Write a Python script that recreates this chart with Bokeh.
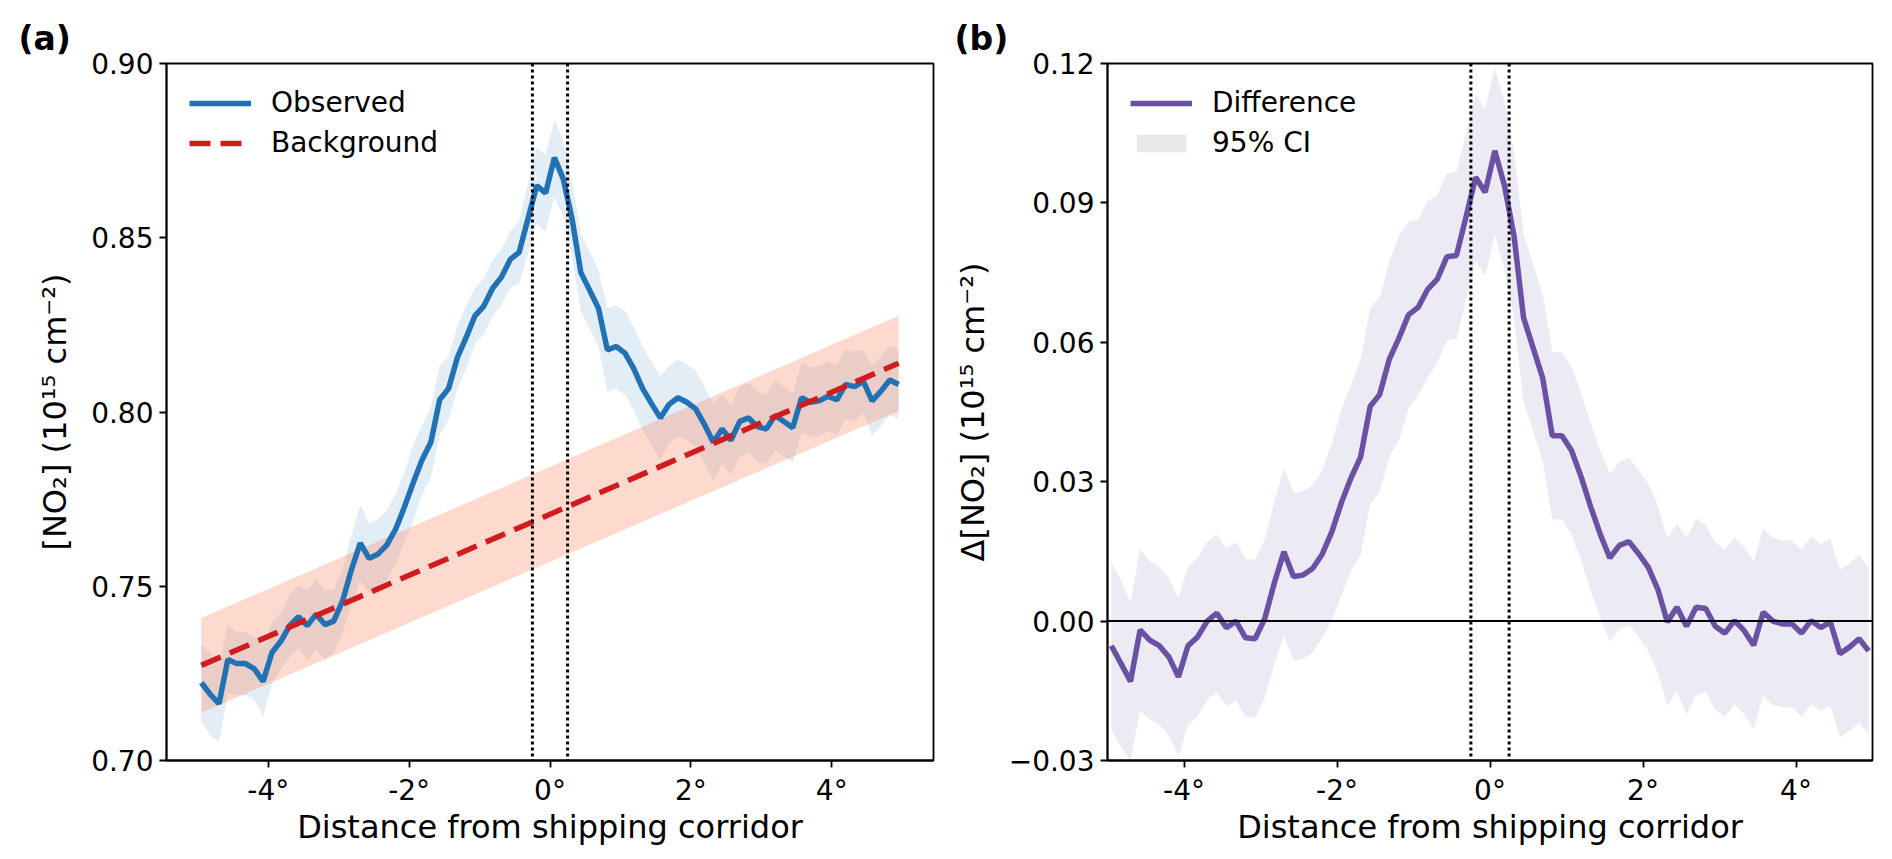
import numpy as np
from bokeh.plotting import figure
from bokeh.layouts import row
from bokeh.models import Span, Title, Legend, LegendItem, FixedTicker, Range1d
from bokeh.embed import file_html
from bokeh.resources import INLINE

FONT = "DejaVu Sans"

# posiciones a lo largo del eje (80 bins entre -4.95 y 4.95)
x = np.linspace(-4.95, 4.95, 80)

# (a) NO2 observado y su banda
observed = [0.7223, 0.7190, 0.7163, 0.7290, 0.7278, 0.7278, 0.7263, 0.7227, 0.7310, 0.7342,
            0.7387, 0.7413, 0.7387, 0.7420, 0.7390, 0.7400, 0.7458, 0.7547, 0.7624, 0.7580,
            0.7592, 0.7618, 0.7663, 0.7727, 0.7797, 0.7862, 0.7913, 0.8035, 0.8067, 0.8156,
            0.8214, 0.8276, 0.8304, 0.8355, 0.8387, 0.8438, 0.8458, 0.8554, 0.8650, 0.8628,
            0.8730, 0.8669, 0.8554, 0.8400, 0.8349, 0.8297, 0.8178, 0.8188, 0.8169, 0.8124,
            0.8067, 0.8024, 0.7983, 0.8022, 0.8041, 0.8028, 0.8009, 0.7964, 0.7913, 0.7951,
            0.7919, 0.7973, 0.7983, 0.7958, 0.7951, 0.7990, 0.7973, 0.7955, 0.8041, 0.8028,
            0.8032, 0.8045, 0.8035, 0.8079, 0.8073, 0.8088, 0.8032, 0.8060, 0.8092, 0.8079]
observed_hw = [0.011, 0.012, 0.011, 0.010, 0.009, 0.009, 0.009, 0.010, 0.009, 0.008,
               0.009, 0.009, 0.010, 0.010, 0.010, 0.009, 0.009, 0.010, 0.011, 0.010,
               0.010, 0.010, 0.010, 0.010, 0.011, 0.010, 0.010, 0.010, 0.009, 0.009,
               0.009, 0.008, 0.008, 0.008, 0.008, 0.008, 0.009, 0.010, 0.011, 0.011,
               0.011, 0.011, 0.011, 0.011, 0.011, 0.011, 0.012, 0.012, 0.012, 0.012,
               0.012, 0.012, 0.012, 0.011, 0.011, 0.011, 0.011, 0.011, 0.011, 0.010,
               0.010, 0.010, 0.010, 0.010, 0.010, 0.010, 0.010, 0.010, 0.010, 0.010,
               0.010, 0.010, 0.010, 0.010, 0.010, 0.009, 0.010, 0.010, 0.010, 0.010]

# fondo lineal y su banda
bg_x = [-4.95, 4.95]
bg_y = [0.7273, 0.8140]
bg_lo = [0.7137, 0.8003]
bg_hi = [0.7409, 0.8276]

# (b) diferencia e intervalo de confianza
difference = [-0.0053, -0.0091, -0.0130, -0.0019, -0.0041, -0.0053, -0.0077, -0.0120, -0.0053, -0.0034,
              0.0000, 0.0017, -0.0014, 0.0000, -0.0036, -0.0038, 0.0005, 0.0082, 0.0149, 0.0096,
              0.0099, 0.0113, 0.0144, 0.0192, 0.0255, 0.0308, 0.0353, 0.0462, 0.0488, 0.0564,
              0.0609, 0.0659, 0.0675, 0.0714, 0.0736, 0.0784, 0.0787, 0.0870, 0.0955, 0.0923,
              0.1012, 0.0938, 0.0830, 0.0653, 0.0588, 0.0523, 0.0399, 0.0399, 0.0367, 0.0311,
              0.0246, 0.0187, 0.0136, 0.0163, 0.0171, 0.0145, 0.0116, 0.0069, -0.0002, 0.0030,
              -0.0011, 0.0030, 0.0027, -0.0011, -0.0026, 0.0001, -0.0020, -0.0052, 0.0019, 0.0000,
              -0.0006, -0.0006, -0.0026, 0.0001, -0.0014, -0.0002, -0.0070, -0.0056, -0.0038, -0.0064]
difference_hw = [0.018, 0.018, 0.017, 0.0175, 0.017, 0.017, 0.017, 0.017, 0.017, 0.017,
                 0.017, 0.017, 0.017, 0.017, 0.017, 0.017, 0.017, 0.0175, 0.018, 0.018,
                 0.018, 0.018, 0.018, 0.019, 0.020, 0.020, 0.021, 0.021, 0.021, 0.021,
                 0.022, 0.020, 0.019, 0.019, 0.018, 0.018, 0.018, 0.018, 0.018, 0.018,
                 0.018, 0.018, 0.018, 0.018, 0.018, 0.018, 0.018, 0.018, 0.018, 0.018,
                 0.018, 0.018, 0.018, 0.018, 0.018, 0.018, 0.018, 0.018, 0.018, 0.018,
                 0.019, 0.019, 0.018, 0.018, 0.018, 0.018, 0.018, 0.018, 0.018, 0.018,
                 0.018, 0.018, 0.018, 0.018, 0.018, 0.018, 0.018, 0.018, 0.018, 0.018]

corridor_edges = [-0.25, 0.25]

x_ticks = [-4, -2, 0, 2, 4]
x_tick_labels = ["-4°", "-2°", "0°", "2°", "4°"]
a_ticks = [0.70, 0.75, 0.80, 0.85, 0.90]
a_tick_labels = ["0.70", "0.75", "0.80", "0.85", "0.90"]
b_ticks = [-0.03, 0.0, 0.03, 0.06, 0.09, 0.12]
b_tick_labels = ["\u22120.03", "0.00", "0.03", "0.06", "0.09", "0.12"]

obs = np.array(observed)
obs_hw = np.array(observed_hw)
dif = np.array(difference)
dif_hw = np.array(difference_hw)


def make_fig(xr, yr, yticks, ylabels, ylabel, min_left, min_right, fw):
    p = figure(frame_width=fw, frame_height=697, x_range=xr, y_range=yr,
               min_border_left=min_left, min_border_right=min_right, min_border_top=63,
               min_border_bottom=88, output_backend="svg", toolbar_location=None)
    p.grid.visible = False
    p.outline_line_color = "black"
    p.outline_line_width = 1.8
    p.xaxis.ticker = FixedTicker(ticks=x_ticks)
    p.xaxis.major_label_overrides = dict(zip(x_ticks, x_tick_labels))
    p.yaxis.ticker = FixedTicker(ticks=yticks)
    p.yaxis.major_label_overrides = dict(zip(yticks, ylabels))
    p.xaxis.axis_label = "Distance from shipping corridor"
    p.yaxis.axis_label = ylabel
    for ax in (p.xaxis[0], p.yaxis[0]):
        ax.axis_line_color = "black"
        ax.axis_line_width = 1.8
        ax.major_tick_line_color = "black"
        ax.major_tick_line_width = 1.8
        ax.major_tick_out = 7
        ax.major_tick_in = 0
        ax.minor_tick_line_color = None
        ax.major_label_text_font = FONT
        ax.major_label_text_font_size = "28px"
        ax.major_label_text_color = "black"
        ax.axis_label_text_font = FONT
        ax.axis_label_text_font_size = "32px"
        ax.axis_label_text_font_style = "normal"
        ax.axis_label_text_color = "black"
    p.xaxis.major_label_standoff = 6
    p.xaxis.axis_label_standoff = -2
    p.yaxis.major_label_standoff = 6
    p.yaxis.axis_label_standoff = 14
    for e in corridor_edges:
        p.add_layout(Span(location=e, dimension="height", line_color="black",
                          line_width=3, line_dash="3 3"))
    return p


def add_legend(p, items):
    leg = Legend(items=items, location="top_left", border_line_alpha=0,
                 background_fill_alpha=0, label_text_font=FONT,
                 label_text_font_size="28px", label_text_color="black",
                 glyph_width=62, glyph_height=22, label_height=30, label_standoff=20,
                 spacing=7, padding=10, margin=13)
    p.add_layout(leg)


def add_tag(p, text, offset):
    p.add_layout(Title(text=text, align="left", offset=offset, standoff=12,
                       text_font=FONT, text_font_size="33px", text_font_style="bold",
                       text_color="black"), "above")


# ---- panel (a)
pa = make_fig(Range1d(-5.445, 5.445), Range1d(0.70, 0.90), a_ticks, a_tick_labels,
              "[NO\u2082] (10\u00b9\u2075 cm\u207b\u00b2)", 166, 16, 767)
pa.varea(x=x, y1=obs - obs_hw, y2=obs + obs_hw, fill_color="#2171b5", fill_alpha=0.13)
pa.varea(x=bg_x, y1=bg_lo, y2=bg_hi, fill_color="#fc9272", fill_alpha=0.35)
r_obs = pa.line(x, obs, line_color="#2171b5", line_width=5.5)
r_bg = pa.line(bg_x, bg_y, line_color="#d01c1f", line_width=5.5, line_dash="21 10")
add_legend(pa, [LegendItem(label="Observed", renderers=[r_obs]),
                LegendItem(label="Background", renderers=[r_bg])])
add_tag(pa, "(a)", -148)

# ---- panel (b)
pb = make_fig(Range1d(-5.0, 5.0), Range1d(-0.03, 0.12), b_ticks, b_tick_labels,
              "\u0394[NO\u2082] (10\u00b9\u2075 cm\u207b\u00b2)", 158, 4, 765)
pb.varea(x=x, y1=dif - dif_hw, y2=dif + dif_hw, fill_color="#9e9ac8", fill_alpha=0.2)
pb.add_layout(Span(location=0, dimension="width", line_color="black", line_width=2))
r_dif = pb.line(x, dif, line_color="#6a51a3", line_width=5.5)
# muestra gris sólo para la leyenda (área de altura cero)
r_ci = pb.varea(x=x, y1=dif, y2=dif, fill_color="#e8e8e8")
add_legend(pb, [LegendItem(label="Difference", renderers=[r_dif]),
                LegendItem(label="95% CI", renderers=[r_ci])])
add_tag(pb, "(b)", -153)

layout = row(pa, pb)
open("out.html", "w").write(file_html(layout, INLINE))
